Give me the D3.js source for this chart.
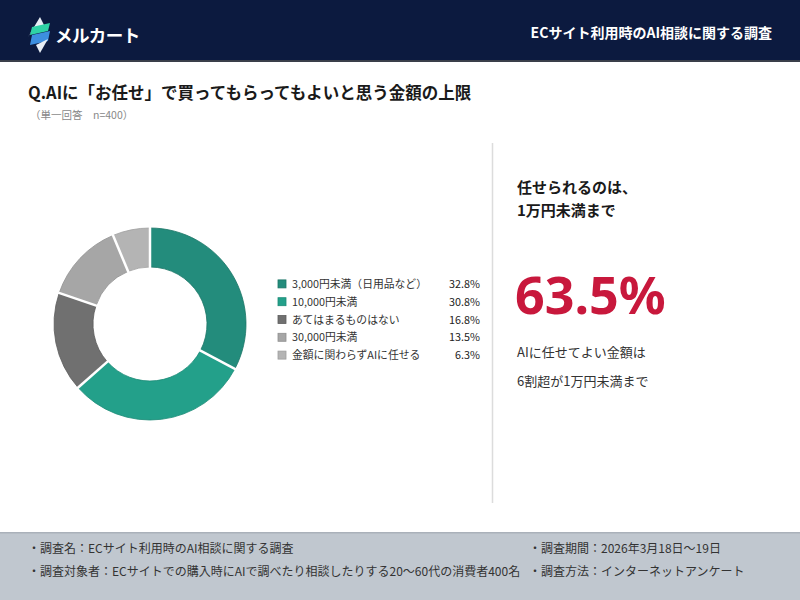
<!DOCTYPE html>
<html>
<head>
<meta charset="utf-8">
<style>
  body { margin: 0; background: #fff; }
  svg { display: block; font-family: "Noto Sans CJK JP", "Noto Sans", sans-serif; }
</style>
</head>
<body>
<div id="chart"></div>
<script src="https://d3js.org/d3.v7.min.js"></script>
<script>
var width = 800,
    height = 600;

// data
var categories = ['3,000円未満（日用品など）', '10,000円未満', 'あてはまるものはない', '30,000円未満', '金額に関わらずAIに任せる'];
var values = [32.8, 30.8, 16.8, 13.5, 6.3];
var highlight = 63.5;
var colors = ['#238c7c', '#23a08a', '#707070', '#a6a6a6', '#b4b4b4'];
var strokes = ['#1b7566', '#1a8a76', '#5c5c5c', '#909090', '#9e9e9e'];
var footLeft = ['・調査名：ECサイト利用時のAI相談に関する調査', '・調査対象者：ECサイトでの購入時にAIで調べたり相談したりする20〜60代の消費者400名'];
var footRight = ['・調査期間：2026年3月18日〜19日', '・調査方法：インターネットアンケート'];

var svg = d3.select('#chart')
    .append('svg')
    .attr('width', width)
    .attr('height', height);

// header band
svg.append('rect').attr('x', 0).attr('y', 0).attr('width', width).attr('height', 61).attr('fill', '#0c1a3f');
svg.append('rect').attr('x', 0).attr('y', 60).attr('width', width).attr('height', 2).attr('fill', '#3a3f4a');

// logo mark
var logo = svg.append('g').attr('transform', 'translate(28,17)');
logo.append('path').attr('d', 'M12,0 L16,8 L4,14 L0,20 Z').attr('fill', '#e8eef5');
logo.append('path').attr('d', 'M4,10 L22,6 L20,14 L2,18 Z').attr('fill', '#2fd3a6');
logo.append('path').attr('d', 'M4,18 L22,14 L20,24 L2,28 Z').attr('fill', '#3d8fe0');
logo.append('path').attr('d', 'M8,28 L20,22 L12,36 Z').attr('fill', '#e8eef5');
svg.append('text').attr('x', 55).attr('y', 42)
    .attr('fill', '#fff').attr('font-size', 17.5).attr('font-weight', 'bold')
    .attr('letter-spacing', -0.4)
    .text('メルカート');

svg.append('text').attr('x', 772).attr('y', 38)
    .attr('text-anchor', 'end')
    .attr('fill', '#fff').attr('font-size', 14).attr('font-weight', 'bold')
    .text('ECサイト利用時のAI相談に関する調査');

// question title
svg.append('text').attr('x', 28).attr('y', 99)
    .attr('fill', '#1a1a1a').attr('font-size', 16.5).attr('font-weight', 'bold')
    .text('Q.AIに「お任せ」で買ってもらってもよいと思う金額の上限');
svg.append('text').attr('x', 30).attr('y', 119)
    .attr('fill', '#888').attr('font-size', 10.5)
    .text('（単一回答　n=400）');

// donut
var cx = 150, cy = 324, outerR = 96, innerR = 57;
var pie = d3.pie().sort(null).value(function(d) { return d; });
var arc = d3.arc().innerRadius(innerR).outerRadius(outerR);
var arcs = pie(values);

var donut = svg.append('g').attr('transform', 'translate(' + cx + ',' + cy + ')');
donut.selectAll('path.slice')
    .data(arcs)
    .enter()
    .append('path')
    .attr('class', 'slice')
    .attr('d', arc)
    .attr('fill', function(d, i) { return colors[i]; })
    .attr('stroke', function(d, i) { return strokes[i]; })
    .attr('stroke-width', 0.8);
// white gaps between slices
donut.selectAll('line.gap')
    .data(arcs)
    .enter()
    .append('line')
    .attr('class', 'gap')
    .attr('x1', function(d) { return Math.sin(d.startAngle) * (innerR - 1); })
    .attr('y1', function(d) { return -Math.cos(d.startAngle) * (innerR - 1); })
    .attr('x2', function(d) { return Math.sin(d.startAngle) * (outerR + 1); })
    .attr('y2', function(d) { return -Math.cos(d.startAngle) * (outerR + 1); })
    .attr('stroke', '#fff')
    .attr('stroke-width', 2.5);

// legend
var legendY = d3.scaleBand().domain(d3.range(categories.length)).range([275, 364]);
var legend = svg.append('g');
var rows = legend.selectAll('g.row')
    .data(categories)
    .enter()
    .append('g')
    .attr('class', 'row')
    .attr('transform', function(d, i) { return 'translate(0,' + (legendY(i) + legendY.bandwidth() / 2) + ')'; });
rows.append('rect')
    .attr('x', 278).attr('y', -4).attr('width', 8).attr('height', 8)
    .attr('fill', function(d, i) { return colors[i]; })
    .attr('stroke', function(d, i) { return strokes[i]; })
    .attr('stroke-width', 0.8);
rows.append('text')
    .attr('x', 292).attr('y', 4)
    .attr('font-size', 10.8).attr('fill', '#333')
    .text(function(d) { return d; });
rows.append('text')
    .attr('x', 480).attr('y', 4)
    .attr('text-anchor', 'end')
    .attr('font-size', 10.8).attr('fill', '#222')
    .text(function(d, i) { return values[i].toFixed(1) + '%'; });

// divider
svg.append('line').attr('x1', 492.5).attr('x2', 492.5).attr('y1', 143).attr('y2', 503)
    .attr('stroke', '#dcdcdc').attr('stroke-width', 1.5);

// callout
svg.append('text').attr('x', 517).attr('y', 193)
    .attr('fill', '#1a1a1a').attr('font-size', 15).attr('font-weight', 'bold')
    .text('任せられるのは、');
svg.append('text').attr('x', 517).attr('y', 216)
    .attr('fill', '#1a1a1a').attr('font-size', 15).attr('font-weight', 'bold')
    .text('1万円未満まで');
svg.append('text').attr('x', 515).attr('y', 314)
    .attr('fill', '#c8183c').attr('font-size', 52).attr('font-weight', 'bold')
    .attr('font-family', 'Noto Sans, sans-serif')
    .text(d3.format('.1f')(highlight) + '%');
svg.append('text').attr('x', 517).attr('y', 357)
    .attr('fill', '#333').attr('font-size', 13)
    .text('AIに任せてよい金額は');
svg.append('text').attr('x', 517).attr('y', 386)
    .attr('fill', '#333').attr('font-size', 13)
    .text('6割超が1万円未満まで');

// footer
svg.append('rect').attr('x', 0).attr('y', 532).attr('width', width).attr('height', 68).attr('fill', '#c0c7cf');
svg.append('rect').attr('x', 0).attr('y', 532).attr('width', width).attr('height', 1.5).attr('fill', '#aab1ba');
svg.selectAll('text.fl')
    .data(footLeft)
    .enter()
    .append('text')
    .attr('class', 'fl')
    .attr('x', 28).attr('y', function(d, i) { return 553 + i * 23; })
    .attr('font-size', 12).attr('fill', '#333')
    .text(function(d) { return d; });
svg.selectAll('text.fr')
    .data(footRight)
    .enter()
    .append('text')
    .attr('class', 'fr')
    .attr('x', 529).attr('y', function(d, i) { return 553 + i * 23; })
    .attr('font-size', 12).attr('fill', '#333')
    .text(function(d) { return d; });
</script>
</body>
</html>
